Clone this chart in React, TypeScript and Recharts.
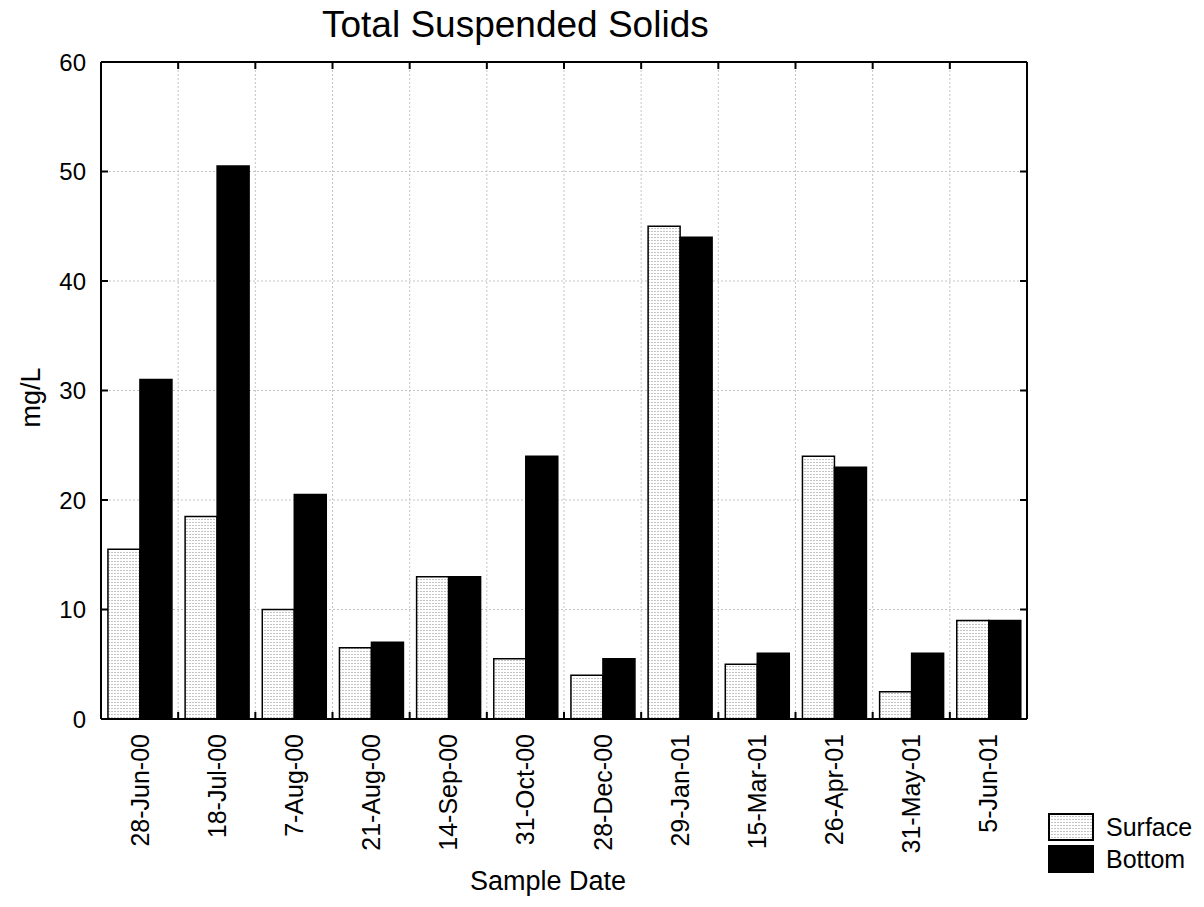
import React from 'react';
import { BarChart, Bar, XAxis, YAxis, CartesianGrid, Legend } from 'recharts';

const DATES = ['28-Jun-00', '18-Jul-00', '7-Aug-00', '21-Aug-00', '14-Sep-00', '31-Oct-00', '28-Dec-00', '29-Jan-01', '15-Mar-01', '26-Apr-01', '31-May-01', '5-Jun-01'];
const SURFACE = [15.5, 18.5, 10, 6.5, 13, 5.5, 4, 45, 5, 24, 2.5, 9];
const BOTTOM = [31, 50.5, 20.5, 7, 13, 24, 5.5, 44, 6, 23, 6, 9];
const Y_TICKS = [0, 10, 20, 30, 40, 50, 60];
const SERIES = [
  { key: 'surface', name: 'Surface' },
  { key: 'bottom', name: 'Bottom' },
];
const TITLE = 'Total Suspended Solids';
const Y_TITLE = 'mg/L';
const X_TITLE = 'Sample Date';

const W = 1204;
const H = 907;
const MARGIN = { top: 61, right: 176, bottom: 58, left: 41 };
const YAXIS_W = 60;
const XAXIS_H = 130;
const PLOT_W = W - MARGIN.left - MARGIN.right - YAXIS_W - 1;
const TICK_LEN = 7;
const Y_GAP = 15;
const X_GAP = 15;
const FONT = '"Liberation Sans", Arial, Helvetica, sans-serif';

const data = DATES.map((d, i) => ({ date: d, surface: SURFACE[i], bottom: BOTTOM[i] }));

const BottomTick = (props: any) => {
  const { x, y, payload, index } = props;
  const band = PLOT_W / DATES.length;
  const y0 = y - X_GAP;
  return (
    <g>
      {index > 0 && (
        <line x1={x - band / 2} x2={x - band / 2} y1={y0} y2={y0 - TICK_LEN} stroke="#000" strokeWidth={2} />
      )}
      <text
        x={x}
        y={y}
        transform={`rotate(-90, ${x}, ${y})`}
        textAnchor="end"
        dominantBaseline="central"
        fontSize={25}
        fontFamily={FONT}
        fill="#000"
      >
        {payload.value}
      </text>
    </g>
  );
};

const TopTick = (props: any) => {
  const { x, y, index } = props;
  const band = PLOT_W / DATES.length;
  if (index === 0) return <g />;
  return <line x1={x - band / 2} x2={x - band / 2} y1={y} y2={y + TICK_LEN} stroke="#000" strokeWidth={2} />;
};

const LeftTick = (props: any) => {
  const { x, y, payload } = props;
  const x0 = x + Y_GAP;
  return (
    <g>
      <line x1={x0} x2={x0 + TICK_LEN} y1={y} y2={y} stroke="#000" strokeWidth={2} />
      <text x={x} y={y} textAnchor="end" dominantBaseline="central" fontSize={24} fontFamily={FONT} fill="#000">
        {payload.value}
      </text>
    </g>
  );
};

const RightTick = (props: any) => {
  const { x, y } = props;
  return <line x1={x} x2={x - TICK_LEN} y1={y} y2={y} stroke="#000" strokeWidth={2} />;
};

const PatternDef = ({ id }: { id: string }) => (
  <pattern id={id} width={3} height={3} patternUnits="userSpaceOnUse">
    <rect x={0} y={0} width={3} height={3} fill="#ffffff" />
    <rect x={0} y={0} width={2} height={1} fill="#c4c4c4" />
  </pattern>
);

const renderLegend = (props: any) => {
  const payload = props.payload || [];
  const items = SERIES.map((s) => payload.find((p: any) => p.dataKey === s.key)).filter(Boolean);
  return (
    <div style={{ fontFamily: FONT }}>
      {items.map((item: any, i: number) => {
        const isSurface = item.dataKey === 'surface';
        return (
          <div key={i} style={{ display: 'flex', alignItems: 'center', height: 32 }}>
            <svg width={46} height={28} style={{ display: 'block' }}>
              <defs>
                <PatternDef id={`legpat${i}`} />
              </defs>
              <rect
                x={1}
                y={1}
                width={44}
                height={26}
                fill={isSurface ? `url(#legpat${i})` : '#000'}
                stroke="#000"
                strokeWidth={2}
              />
            </svg>
            <span style={{ fontSize: 25, marginLeft: 12, color: '#000', lineHeight: '28px' }}>{item.value}</span>
          </div>
        );
      })}
    </div>
  );
};

const YTitle = (props: any) => {
  const vb = props.viewBox || {};
  const cx = MARGIN.left - 10;
  const cy = vb.y + vb.height / 2 + 7;
  return (
    <text
      x={cx}
      y={cy}
      transform={`rotate(-90, ${cx}, ${cy})`}
      textAnchor="middle"
      dominantBaseline="central"
      fontSize={27}
      fontFamily={FONT}
      fill="#000"
    >
      {Y_TITLE}
    </text>
  );
};

const XTitle = (props: any) => {
  const vb = props.viewBox || {};
  return (
    <text x={vb.x + vb.width / 2 - 16} y={vb.y + vb.height + 41} textAnchor="middle" fontSize={27} fontFamily={FONT} fill="#000">
      {X_TITLE}
    </text>
  );
};

export default function App() {
  return (
    <div style={{ position: 'absolute', left: 0, top: 0, width: W, height: H, background: '#fff' }}>
      <BarChart
        width={W}
        height={H}
        data={data}
        margin={MARGIN}
        barCategoryGap="9%"
        barGap={0}
      >
        <defs>
          <PatternDef id="surfacePattern" />
        </defs>
        <CartesianGrid
          stroke="#c4c4c4"
          strokeDasharray="2 2"
          verticalCoordinatesGenerator={({ offset }: any) =>
            DATES.slice(1).map((_, i) => offset.left + ((i + 1) * offset.width) / DATES.length)
          }
        />
        <XAxis
          dataKey="date"
          height={XAXIS_H}
          interval={0}
          tickSize={0}
          tickMargin={X_GAP}
          tickLine={false}
          axisLine={{ stroke: '#000', strokeWidth: 2 }}
          tick={<BottomTick />}
          label={<XTitle />}
        />
        <XAxis
          xAxisId="top"
          orientation="top"
          dataKey="date"
          height={1}
          interval={0}
          tickSize={0}
          tickMargin={0}
          tickLine={false}
          axisLine={{ stroke: '#000', strokeWidth: 2 }}
          tick={<TopTick />}
        />
        <YAxis
          width={YAXIS_W}
          domain={[0, 60]}
          ticks={Y_TICKS}
          interval={0}
          tickSize={0}
          tickMargin={Y_GAP}
          tickLine={false}
          axisLine={{ stroke: '#000', strokeWidth: 2 }}
          tick={<LeftTick />}
          label={<YTitle />}
        />
        <YAxis
          yAxisId="r"
          orientation="right"
          width={1}
          domain={[0, 60]}
          allowDataOverflow
          ticks={Y_TICKS}
          interval={0}
          tickSize={0}
          tickMargin={0}
          tickLine={false}
          axisLine={{ stroke: '#000', strokeWidth: 2 }}
          tick={<RightTick />}
        />
        <Legend
          layout="vertical"
          align="center"
          verticalAlign="middle"
          content={renderLegend}
          wrapperStyle={{ left: 1048, top: 811, width: 156 }}
        />
        <Bar
          dataKey="surface"
          name={SERIES[0].name}
          fill="url(#surfacePattern)"
          stroke="#000"
          strokeWidth={1.5}
          isAnimationActive={false}
        />
        <Bar
          dataKey="bottom"
          name={SERIES[1].name}
          fill="#000"
          stroke="#000"
          strokeWidth={1.5}
          isAnimationActive={false}
        />
      </BarChart>
      <svg
        width={W}
        height={56}
        style={{ position: 'absolute', left: 0, top: 0, pointerEvents: 'none' }}
      >
        <text x={322} y={37} fontSize={37} fontFamily={FONT} fill="#000">
          {TITLE}
        </text>
      </svg>
    </div>
  );
}
